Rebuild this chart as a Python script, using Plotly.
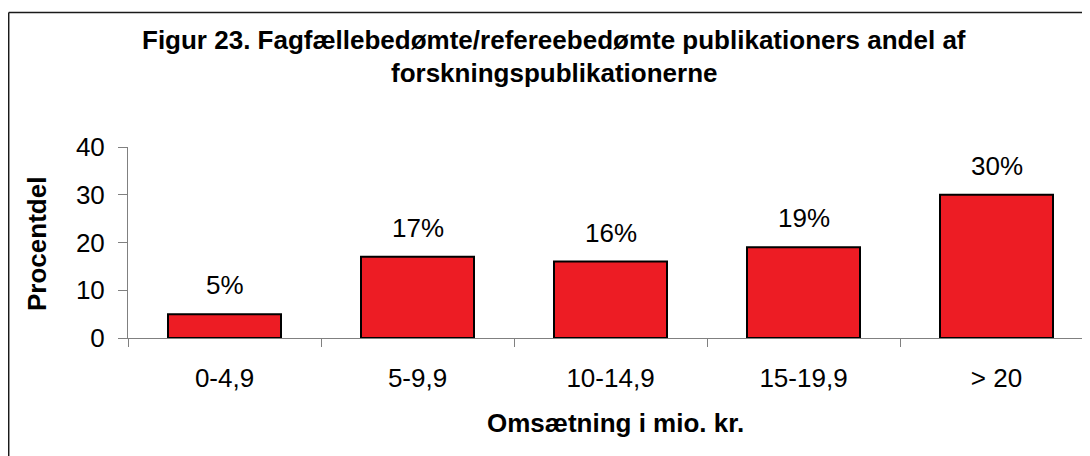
import plotly.graph_objects as go

categories = ["0-4,9", "5-9,9", "10-14,9", "15-19,9", "> 20"]
values = [5, 17, 16, 19, 30]
labels = ["5%", "17%", "16%", "19%", "30%"]
title_lines = ["Figur 23. Fagfællebedømte/refereebedømte publikationers andel af",
               "forskningspublikationerne"]
y_title = "Procentdel"
x_title = "Omsætning i mio. kr."
y_ticks = [0, 10, 20, 30, 40]

OFF = 8  # page body margin
W, H = 1090 - OFF, 456 - OFF
# plot area in page pixels
L_PG, R_PG, T_PG, B_PG = 128, 1090, 147, 338
cat_w = 193.0
L = L_PG - OFF
T = T_PG - OFF
plot_w = R_PG - L_PG
plot_h = B_PG - T_PG

def px_x(p):
    return (p - L_PG) / plot_w

def px_y(p):
    return (B_PG - p) / plot_h

FONT = "Liberation Sans, Arial, sans-serif"
FS = 26

fig = go.Figure()
fig.add_trace(go.Bar(
    x=categories, y=values,
    marker=dict(color="#ED1C24", line=dict(color="#000000", width=2)),
    width=113 / cat_w,
    hoverinfo="skip",
))

for c, v, t in zip(categories, values, labels):
    fig.add_annotation(x=c, y=v, text=t, showarrow=False, yanchor="bottom",
                       yshift=12, font=dict(family=FONT, size=FS, color="#000"))

fig.add_annotation(xref="paper", yref="paper", x=px_x(554), y=px_y(40),
                   text="<b>" + title_lines[0] + "</b>", showarrow=False,
                   xanchor="center", yanchor="middle",
                   font=dict(family=FONT, size=FS, color="#000"))
fig.add_annotation(xref="paper", yref="paper", x=px_x(554), y=px_y(73),
                   text="<b>" + title_lines[1] + "</b>", showarrow=False,
                   xanchor="center", yanchor="middle",
                   font=dict(family=FONT, size=FS, color="#000"))
fig.add_annotation(xref="paper", yref="paper", x=px_x(37), y=px_y(244),
                   text="<b>" + y_title + "</b>", showarrow=False, textangle=-90,
                   xanchor="center", yanchor="middle",
                   font=dict(family=FONT, size=FS, color="#000"))
fig.add_annotation(xref="paper", yref="paper", x=px_x(615), y=px_y(423),
                   text="<b>" + x_title + "</b>", showarrow=False,
                   xanchor="center", yanchor="middle",
                   font=dict(family=FONT, size=FS, color="#000"))

# chart border (cropped at right/bottom in the reference)
fig.add_shape(type="line", xref="paper", yref="paper",
              x0=px_x(8.7), x1=px_x(1110), y0=px_y(12.5), y1=px_y(12.5),
              line=dict(color="#1a1a1a", width=1.5))
fig.add_shape(type="line", xref="paper", yref="paper",
              x0=px_x(8.7), x1=px_x(8.7), y0=px_y(12.5), y1=px_y(480),
              line=dict(color="#1a1a1a", width=1.5))

fig.update_layout(
    width=W, height=H,
    margin=dict(l=L, r=0, t=T, b=H - (B_PG - OFF), pad=0),
    paper_bgcolor="white", plot_bgcolor="white",
    showlegend=False,
    font=dict(family=FONT, size=FS, color="#000"),
    xaxis=dict(
        type="category",
        range=[-0.5, -0.5 + plot_w / cat_w],
        showline=True, linecolor="#808080", linewidth=1,
        ticks="outside", ticklen=8, tickcolor="#808080", tickwidth=1,
        tickson="boundaries",
        ticklabelstandoff=17,
        tickfont=dict(family=FONT, size=FS, color="#000"),
        showgrid=False, zeroline=False, fixedrange=True,
    ),
    yaxis=dict(
        range=[0, 40],
        tickvals=y_ticks,
        showline=True, linecolor="#808080", linewidth=1,
        ticks="outside", ticklen=9, tickcolor="#808080", tickwidth=1,
        ticklabelstandoff=8,
        tickfont=dict(family=FONT, size=FS, color="#000"),
        showgrid=False, zeroline=False, fixedrange=True,
    ),
)

fig.write_html("out.html")
